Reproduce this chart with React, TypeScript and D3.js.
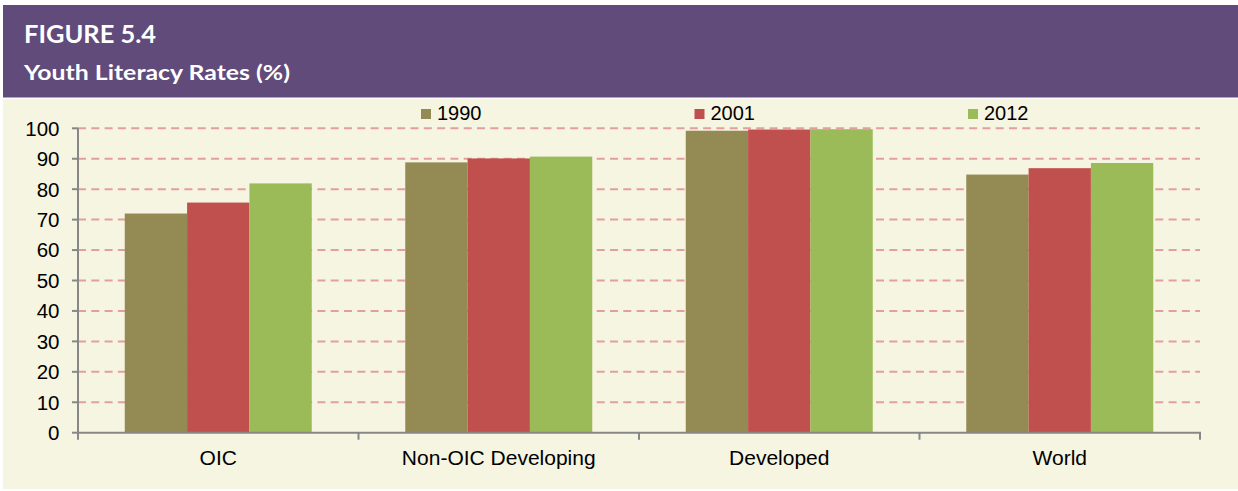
import React from "react";
import * as d3 from "d3";

const categories = ["OIC", "Non-OIC Developing", "Developed", "World"];
const seriesNames = ["1990", "2001", "2012"];
const values1990 = [72.0, 88.8, 99.2, 84.8];
const values2001 = [75.6, 90.1, 99.6, 86.9];
const values2012 = [81.9, 90.7, 99.7, 88.6];
const yTicks = [0, 10, 20, 30, 40, 50, 60, 70, 80, 90, 100];
const colors = ["#948A54", "#C0504D", "#9BBB59"];

const W = 1238;
const H = 491;

export default function App() {
  const seriesValues = [values1990, values2001, values2012];
  const x0 = d3.scaleBand<string>().domain(categories).range([78, 1200]).padding(0);
  const x1 = d3
    .scaleBand<string>()
    .domain(seriesNames)
    .range([0, x0.bandwidth()])
    .paddingInner(0)
    .paddingOuter(0.75);
  const y = d3.scaleLinear().domain([0, 100]).range([432.7, 128.3]);
  const legendX = d3.scalePoint<string>().domain(seriesNames).range([421, 968]);
  const font = "Arial, 'Liberation Sans', sans-serif";

  return (
    <svg
      width={W}
      height={H}
      style={{ position: "absolute", left: 0, top: 0, display: "block", background: "#ffffff" }}
    >
      <rect x={3} y={5} width={W - 3} height={92.5} fill="#604B7B" />
      <rect x={3} y={99} width={W - 3} height={390} fill="#F6F5E1" />
      <text
        x={24}
        y={43}
        fill="#ffffff"
        fontFamily="Lato, 'Open Sans', sans-serif"
        fontWeight="bold"
        fontSize={24.5}
        textLength={132}
        lengthAdjust="spacingAndGlyphs"
      >
        FIGURE 5.4
      </text>
      <text
        x={24}
        y={80}
        fill="#ffffff"
        fontFamily="Lato, 'Open Sans', sans-serif"
        fontWeight="bold"
        fontSize={21}
        textLength={266}
        lengthAdjust="spacingAndGlyphs"
      >
        Youth Literacy Rates (%)
      </text>

      {/* gridlines */}
      {yTicks
        .filter((t) => t > 0)
        .map((t) => (
          <line
            key={"g" + t}
            x1={78}
            x2={1200}
            y1={y(t)}
            y2={y(t)}
            stroke="#E39F9F"
            strokeWidth={2}
            strokeDasharray="8 5.3"
          />
        ))}

      {/* bars */}
      {categories.map((c, ci) => (
        <g key={c} transform={`translate(${x0(c)},0)`}>
          {seriesNames.map((s, si) => (
            <rect
              key={s}
              x={x1(s)}
              y={y(seriesValues[si][ci])}
              width={x1.bandwidth()}
              height={y(0) - y(seriesValues[si][ci])}
              fill={colors[si]}
            />
          ))}
        </g>
      ))}

      {/* y axis */}
      <line x1={78} x2={78} y1={y(100)} y2={y(0)} stroke="#878787" strokeWidth={2} />
      {yTicks.map((t) => (
        <g key={"t" + t}>
          <line x1={72} x2={78} y1={y(t)} y2={y(t)} stroke="#878787" strokeWidth={2} />
          <text
            x={59.5}
            y={y(t)}
            dy="0.36em"
            textAnchor="end"
            fontFamily={font}
            fontSize={20.5}
            fill="#000"
          >
            {t}
          </text>
        </g>
      ))}

      {/* x axis */}
      <line x1={77} x2={1201} y1={y(0)} y2={y(0)} stroke="#878787" strokeWidth={2} />
      {[...categories.map((c) => x0(c) as number), 1200].map((px, i) => (
        <line key={"xt" + i} x1={px} x2={px} y1={y(0)} y2={y(0) + 7} stroke="#878787" strokeWidth={2} />
      ))}
      {categories.map((c) => (
        <text
          key={"l" + c}
          x={(x0(c) as number) + x0.bandwidth() / 2}
          y={465}
          textAnchor="middle"
          fontFamily={font}
          fontSize={21}
          fill="#000"
        >
          {c}
        </text>
      ))}

      {/* legend */}
      {seriesNames.map((s, i) => (
        <g key={"lg" + s}>
          <rect x={legendX(s)} y={109} width={10} height={10} fill={colors[i]} />
          <text x={(legendX(s) as number) + 16} y={120} fontFamily={font} fontSize={20} fill="#000">
            {s}
          </text>
        </g>
      ))}
    </svg>
  );
}
